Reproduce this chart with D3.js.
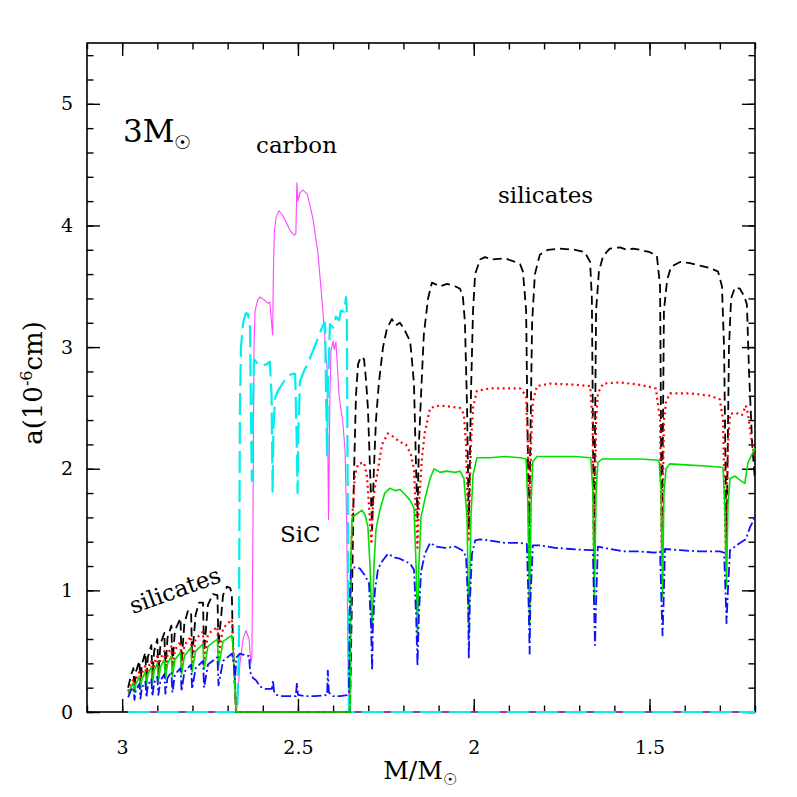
<!DOCTYPE html>
<html><head><meta charset="utf-8">
<script src="https://cdn.jsdelivr.net/npm/d3@7"></script>
<style>body{margin:0;background:#fff}svg{display:block}text{font-family:"DejaVu Serif",serif;fill:#000}</style>
</head><body>
<script>
// ---- data (x = M/Msun, y = a in 1e-6 cm) ----
const xMajor = [3, 2.5, 2, 1.5];
const yMajor = [0, 1, 2, 3, 4, 5];
const xMinor = [3.1,3.0,2.9,2.8,2.7,2.6,2.5,2.4,2.3,2.2,2.1,2.0,1.9,1.8,1.7,1.6,1.5,1.4,1.3,1.2];
const yMinor = [0,0.2,0.4,0.6,0.8,1,1.2,1.4,1.6,1.8,2,2.2,2.4,2.6,2.8,3,3.2,3.4,3.6,3.8,4,4.2,4.4,4.6,4.8,5,5.2,5.4];

const magenta = [[2.983,0],[2.676,0],[2.673,0.05],[2.665,0.40],[2.656,0.60],[2.648,0.67],[2.639,0.60],[2.634,0.40],[2.631,0.45],[2.628,1.50],[2.625,3.00],[2.622,3.30],[2.614,3.39],[2.608,3.41],[2.597,3.39],[2.585,3.36],[2.580,3.37],[2.575,3.20],[2.572,3.10],[2.570,3.60],[2.567,3.95],[2.562,4.07],[2.554,4.12],[2.545,4.09],[2.534,4.03],[2.523,3.96],[2.511,3.92],[2.506,3.93],[2.503,4.35],[2.500,4.20],[2.494,4.27],[2.486,4.29],[2.474,4.26],[2.466,4.17],[2.457,4.05],[2.443,3.77],[2.429,3.30],[2.417,2.81],[2.413,1.58],[2.409,2.60],[2.406,2.97],[2.400,3.05],[2.397,2.98],[2.392,3.04],[2.389,2.90],[2.383,2.60],[2.372,2.37],[2.366,2.15],[2.361,1.50],[2.358,0.50],[2.355,0],[1.200,0]];

const cyan = [[2.983,0],[2.673,0],[2.668,0.50],[2.665,2.50],[2.662,3.00],[2.656,3.20],[2.648,3.28],[2.642,3.27],[2.636,3.15],[2.634,2.50],[2.631,1.90],[2.628,2.50],[2.625,2.90],[2.619,2.88],[2.611,2.85],[2.599,2.85],[2.588,2.86],[2.580,2.88],[2.575,2.60],[2.572,1.80],[2.570,2.30],[2.565,2.58],[2.557,2.64],[2.548,2.68],[2.537,2.73],[2.525,2.77],[2.514,2.78],[2.508,2.78],[2.504,2.30],[2.501,1.80],[2.499,2.30],[2.494,2.72],[2.483,2.80],[2.472,2.87],[2.460,2.95],[2.449,3.03],[2.437,3.12],[2.429,3.18],[2.423,3.20],[2.420,2.60],[2.417,2.10],[2.415,2.60],[2.409,3.19],[2.400,3.16],[2.392,3.25],[2.383,3.22],[2.378,3.30],[2.369,3.29],[2.363,3.41],[2.361,3.30],[2.358,1.50],[2.355,0],[1.200,0]];

const black = [[2.983,0.20],[2.975,0.30],[2.968,0.36],[2.965,0.20],[2.961,0.33],[2.951,0.42],[2.948,0.23],[2.944,0.39],[2.934,0.49],[2.931,0.26],[2.927,0.45],[2.917,0.55],[2.914,0.29],[2.909,0.50],[2.900,0.60],[2.897,0.32],[2.891,0.56],[2.880,0.65],[2.877,0.35],[2.871,0.61],[2.860,0.71],[2.857,0.38],[2.850,0.67],[2.834,0.77],[2.831,0.41],[2.823,0.73],[2.813,0.83],[2.804,0.83],[2.801,0.45],[2.791,0.80],[2.781,0.90],[2.770,0.90],[2.767,0.50],[2.756,0.88],[2.742,0.97],[2.729,0.96],[2.726,0.55],[2.713,0.96],[2.702,1.03],[2.693,1.02],[2.688,0.97],[2.685,0.55],[2.676,0],[2.352,0],
[2.346,1.00],[2.341,1.90],[2.335,2.60],[2.329,2.86],[2.321,2.92],[2.312,2.90],[2.307,2.75],[2.301,2.50],[2.295,2.00],[2.289,1.50],[2.284,2.00],[2.278,2.40],[2.270,2.70],[2.258,3.00],[2.247,3.15],[2.233,3.23],[2.221,3.18],[2.210,3.20],[2.198,3.15],[2.190,3.10],[2.181,3.05],[2.176,2.90],[2.170,2.70],[2.164,2.00],[2.160,1.60],[2.156,2.20],[2.150,2.60],[2.142,3.10],[2.130,3.40],[2.119,3.53],[2.096,3.50],[2.076,3.52],[2.053,3.50],[2.039,3.48],[2.031,3.42],[2.025,3.20],[2.019,2.50],[2.014,1.50],[2.008,2.60],[2.002,3.30],[1.996,3.60],[1.982,3.72],[1.968,3.74],[1.948,3.72],[1.911,3.73],[1.883,3.70],[1.868,3.68],[1.860,3.62],[1.851,3.30],[1.843,1.40],[1.834,3.20],[1.826,3.60],[1.812,3.76],[1.789,3.80],[1.755,3.81],[1.712,3.80],[1.684,3.78],[1.669,3.70],[1.664,3.40],[1.658,1.30],[1.652,3.30],[1.644,3.62],[1.632,3.75],[1.613,3.81],[1.584,3.82],[1.564,3.80],[1.547,3.81],[1.527,3.80],[1.499,3.78],[1.479,3.75],[1.470,3.50],[1.465,1.30],[1.459,3.30],[1.450,3.55],[1.439,3.66],[1.413,3.70],[1.385,3.69],[1.357,3.67],[1.328,3.65],[1.305,3.62],[1.294,3.50],[1.288,3.00],[1.281,1.35],[1.274,3.00],[1.268,3.40],[1.257,3.49],[1.243,3.48],[1.231,3.42],[1.223,3.35],[1.217,2.80],[1.208,2.20],[1.200,1.90]];

const red = [[2.983,0.17],[2.975,0.23],[2.968,0.27],[2.965,0.17],[2.961,0.27],[2.951,0.33],[2.948,0.20],[2.944,0.32],[2.934,0.38],[2.931,0.23],[2.927,0.36],[2.917,0.42],[2.914,0.26],[2.909,0.40],[2.900,0.46],[2.897,0.28],[2.891,0.44],[2.880,0.50],[2.877,0.30],[2.871,0.47],[2.860,0.54],[2.857,0.33],[2.850,0.51],[2.834,0.58],[2.831,0.36],[2.823,0.55],[2.804,0.62],[2.801,0.39],[2.791,0.60],[2.770,0.66],[2.767,0.42],[2.756,0.64],[2.729,0.70],[2.726,0.45],[2.713,0.69],[2.688,0.76],[2.685,0.60],[2.676,0],[2.352,0],
[2.349,1.20],[2.346,1.58],[2.338,1.95],[2.329,2.04],[2.312,2.05],[2.304,1.95],[2.298,1.70],[2.291,1.38],[2.287,1.70],[2.281,1.85],[2.272,2.00],[2.261,2.20],[2.244,2.29],[2.227,2.26],[2.210,2.22],[2.193,2.20],[2.179,2.12],[2.170,2.00],[2.164,1.60],[2.160,1.35],[2.156,1.70],[2.147,2.10],[2.139,2.30],[2.124,2.50],[2.096,2.52],[2.068,2.51],[2.039,2.50],[2.028,2.45],[2.022,2.20],[2.015,1.40],[2.008,2.20],[2.002,2.50],[1.991,2.64],[1.954,2.66],[1.911,2.66],[1.868,2.66],[1.851,2.60],[1.846,2.20],[1.841,1.20],[1.837,2.20],[1.832,2.55],[1.820,2.68],[1.783,2.70],[1.712,2.69],[1.669,2.68],[1.662,2.40],[1.658,1.20],[1.652,2.40],[1.647,2.62],[1.632,2.70],[1.584,2.71],[1.527,2.69],[1.482,2.66],[1.470,2.40],[1.465,1.25],[1.459,2.40],[1.453,2.55],[1.442,2.62],[1.385,2.62],[1.328,2.60],[1.300,2.57],[1.291,2.40],[1.283,1.30],[1.277,2.20],[1.271,2.45],[1.254,2.46],[1.237,2.44],[1.226,2.52],[1.220,2.45],[1.208,2.20],[1.200,2.10]];

const green = [[2.983,0.15],[2.975,0.20],[2.968,0.24],[2.965,0.16],[2.961,0.23],[2.951,0.29],[2.948,0.19],[2.944,0.27],[2.934,0.33],[2.931,0.21],[2.927,0.31],[2.917,0.37],[2.914,0.23],[2.909,0.34],[2.900,0.40],[2.897,0.25],[2.891,0.37],[2.880,0.43],[2.877,0.27],[2.871,0.40],[2.860,0.46],[2.857,0.29],[2.850,0.43],[2.834,0.49],[2.831,0.31],[2.823,0.46],[2.804,0.53],[2.801,0.33],[2.791,0.50],[2.770,0.56],[2.767,0.35],[2.756,0.54],[2.729,0.60],[2.726,0.37],[2.713,0.58],[2.688,0.63],[2.685,0.55],[2.676,0],[2.352,0],
[2.349,1.30],[2.346,1.60],[2.332,1.63],[2.318,1.66],[2.309,1.62],[2.301,1.52],[2.295,1.20],[2.289,0.65],[2.284,1.20],[2.278,1.50],[2.267,1.66],[2.253,1.80],[2.238,1.84],[2.224,1.82],[2.210,1.83],[2.196,1.79],[2.181,1.74],[2.170,1.68],[2.164,1.20],[2.160,0.62],[2.156,1.20],[2.150,1.60],[2.139,1.75],[2.124,1.92],[2.113,2.00],[2.096,1.97],[2.076,1.98],[2.053,1.97],[2.039,1.98],[2.028,1.92],[2.019,1.60],[2.014,0.65],[2.008,1.60],[2.002,1.95],[1.991,2.09],[1.954,2.09],[1.911,2.10],[1.868,2.09],[1.851,2.08],[1.846,1.70],[1.841,0.70],[1.837,1.70],[1.832,2.06],[1.820,2.10],[1.769,2.10],[1.712,2.10],[1.667,2.09],[1.661,1.80],[1.657,0.90],[1.652,1.80],[1.647,2.05],[1.635,2.08],[1.584,2.08],[1.527,2.08],[1.473,2.07],[1.467,1.80],[1.463,0.95],[1.459,1.80],[1.453,2.00],[1.442,2.04],[1.385,2.03],[1.328,2.02],[1.291,2.01],[1.286,1.70],[1.281,1.03],[1.277,1.70],[1.271,1.92],[1.257,1.94],[1.240,1.90],[1.229,1.88],[1.220,2.05],[1.200,2.17]];

const blue = [[2.983,0.12],[2.975,0.18],[2.968,0.20],[2.965,0.10],[2.961,0.18],[2.951,0.23],[2.948,0.11],[2.944,0.20],[2.934,0.25],[2.931,0.12],[2.927,0.22],[2.917,0.27],[2.914,0.13],[2.909,0.24],[2.900,0.29],[2.897,0.14],[2.891,0.26],[2.880,0.31],[2.877,0.15],[2.871,0.28],[2.860,0.33],[2.857,0.16],[2.850,0.31],[2.834,0.36],[2.831,0.17],[2.823,0.33],[2.804,0.39],[2.801,0.19],[2.791,0.36],[2.770,0.42],[2.767,0.20],[2.756,0.39],[2.729,0.45],[2.726,0.22],[2.713,0.42],[2.688,0.48],
[2.682,0.40],[2.679,0.27],[2.675,0.45],[2.665,0.48],[2.654,0.47],[2.639,0.46],[2.636,0.33],[2.628,0.28],[2.619,0.26],[2.608,0.21],[2.594,0.19],[2.574,0.19],[2.571,0.26],[2.568,0.17],[2.562,0.14],[2.545,0.13],[2.523,0.13],[2.506,0.13],[2.503,0.24],[2.500,0.14],[2.480,0.13],[2.452,0.13],[2.417,0.14],[2.415,0.34],[2.412,0.16],[2.400,0.13],[2.380,0.13],[2.358,0.14],[2.355,0.16],
[2.352,1.00],[2.349,1.17],[2.338,1.19],[2.324,1.18],[2.309,1.12],[2.298,1.06],[2.292,0.70],[2.289,0.34],[2.287,0.70],[2.281,1.00],[2.272,1.18],[2.258,1.25],[2.244,1.30],[2.224,1.27],[2.210,1.26],[2.196,1.24],[2.181,1.22],[2.170,1.17],[2.164,0.80],[2.160,0.38],[2.156,0.80],[2.150,1.15],[2.139,1.30],[2.124,1.39],[2.107,1.36],[2.082,1.35],[2.053,1.36],[2.033,1.33],[2.022,1.28],[2.016,0.90],[2.014,0.44],[2.011,0.90],[2.005,1.30],[1.996,1.41],[1.982,1.42],[1.954,1.41],[1.911,1.39],[1.868,1.39],[1.849,1.38],[1.844,0.90],[1.841,0.48],[1.839,0.90],[1.832,1.37],[1.812,1.37],[1.769,1.35],[1.726,1.34],[1.669,1.33],[1.661,1.33],[1.658,0.90],[1.655,0.55],[1.652,0.90],[1.647,1.36],[1.613,1.34],[1.570,1.32],[1.527,1.32],[1.485,1.31],[1.470,1.32],[1.466,0.90],[1.463,0.63],[1.460,0.90],[1.456,1.34],[1.413,1.33],[1.357,1.32],[1.300,1.32],[1.288,1.31],[1.284,1.00],[1.281,0.73],[1.277,1.00],[1.271,1.33],[1.243,1.39],[1.226,1.42],[1.214,1.52],[1.200,1.60]];

// ---- layout ----
const W = 797, H = 797;
const L = 87, R = 755, T = 43, B = 712;
const svg = d3.select("body").append("svg").attr("width", W).attr("height", H);
const x = d3.scaleLinear().domain([3.1, 1.2]).range([L, R]);
const y = d3.scaleLinear().domain([0, 5.5]).range([B, T]);
const line = d3.line().x(d => x(d[0])).y(d => y(d[1]));

// frame first so the zero-level curves show on top of the bottom edge
svg.append("rect").attr("x", L).attr("y", T).attr("width", R - L).attr("height", B - T)
  .attr("fill", "none").attr("stroke", "#000").attr("stroke-width", 1.6);

// ---- axes ----
function styleAxis(sel) {
  sel.select(".domain").remove();
  sel.selectAll(".tick line").attr("stroke", "#000").attr("stroke-width", 1.4);
  sel.selectAll("text").style("font-family", '"DejaVu Serif", serif').attr("font-size", 19).attr("fill", "#000");
}
const fmt = d => d3.format("")(d);
svg.append("g").attr("transform", `translate(0,${B})`)
  .call(d3.axisBottom(x).tickValues(xMajor).tickSizeInner(-13).tickSizeOuter(0).tickPadding(29).tickFormat(fmt)).call(styleAxis);
svg.append("g").attr("transform", `translate(0,${B})`)
  .call(d3.axisBottom(x).tickValues(xMinor).tickSizeInner(-6.5).tickSizeOuter(0).tickFormat("")).call(styleAxis);
svg.append("g").attr("transform", `translate(0,${T})`)
  .call(d3.axisTop(x).tickValues(xMajor).tickSizeInner(-13).tickSizeOuter(0).tickFormat("")).call(styleAxis);
svg.append("g").attr("transform", `translate(0,${T})`)
  .call(d3.axisTop(x).tickValues(xMinor).tickSizeInner(-6.5).tickSizeOuter(0).tickFormat("")).call(styleAxis);
svg.append("g").attr("transform", `translate(${L},0)`)
  .call(d3.axisLeft(y).tickValues(yMajor).tickSizeInner(-13).tickSizeOuter(0).tickPadding(14).tickFormat(fmt)).call(styleAxis);
svg.append("g").attr("transform", `translate(${L},0)`)
  .call(d3.axisLeft(y).tickValues(yMinor).tickSizeInner(-6.5).tickSizeOuter(0).tickFormat("")).call(styleAxis);
svg.append("g").attr("transform", `translate(${R},0)`)
  .call(d3.axisRight(y).tickValues(yMajor).tickSizeInner(-13).tickSizeOuter(0).tickFormat("")).call(styleAxis);
svg.append("g").attr("transform", `translate(${R},0)`)
  .call(d3.axisRight(y).tickValues(yMinor).tickSizeInner(-6.5).tickSizeOuter(0).tickFormat("")).call(styleAxis);

// ---- curves ----
const series = [
  {d: magenta, c: "#ff44ff", w: 1.1, dash: null},
  {d: cyan, c: "#00eeee", w: 2.2, dash: "22,7"},
  {d: black, c: "#000000", w: 1.8, dash: "9,5"},
  {d: red, c: "#ff0000", w: 2.2, dash: "2,3.5"},
  {d: green, c: "#00e000", w: 1.6, dash: null},
  {d: blue, c: "#1010ff", w: 1.8, dash: "10,3,2,3"}
];
const g = svg.append("g");
series.forEach(s => {
  g.append("path").datum(s.d).attr("d", line).attr("fill", "none")
    .attr("stroke", s.c).attr("stroke-width", s.w)
    .attr("stroke-dasharray", s.dash).attr("stroke-linejoin", "round");
});

// ---- annotations ----
const t1 = svg.append("text").attr("x", 123).attr("y", 142).attr("font-size", 31);
t1.append("tspan").text("3M");
t1.append("tspan").attr("font-size", 19).attr("dy", 7).text("☉");

svg.append("text").attr("x", 256).attr("y", 153).attr("font-size", 23).text("carbon");
svg.append("text").attr("x", 498).attr("y", 203).attr("font-size", 23).text("silicates");
svg.append("text").attr("x", 280).attr("y", 542).attr("font-size", 23).text("SiC");
svg.append("text").attr("transform", "translate(133,614) rotate(-20)").attr("font-size", 23).text("silicates");

const xl = svg.append("text").attr("x", 420).attr("y", 779).attr("text-anchor", "middle").attr("font-size", 25);
xl.append("tspan").text("M/M");
xl.append("tspan").attr("font-size", 16).attr("dy", 6).text("☉");

const yl = svg.append("text").attr("transform", "translate(42,383) rotate(-90)").attr("text-anchor", "middle").attr("font-size", 26);
yl.append("tspan").text("a(10");
yl.append("tspan").attr("font-size", 16).attr("dy", -10).text("-6");
yl.append("tspan").attr("dy", 10).text("cm)");
</script>
</body></html>
